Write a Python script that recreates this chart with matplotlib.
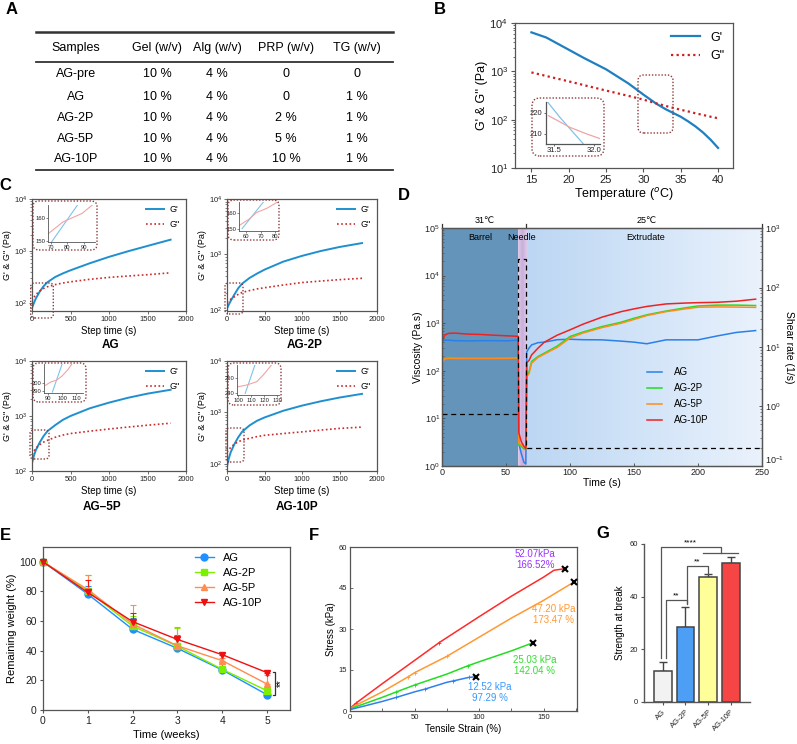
import numpy as np
import matplotlib
matplotlib.use("Agg")
import matplotlib.pyplot as plt
from matplotlib.patches import FancyBboxPatch
from matplotlib.colors import LinearSegmentedColormap
from matplotlib.transforms import blended_transform_factory
from matplotlib.lines import Line2D

plt.rcParams['font.family'] = ['Liberation Sans', 'DejaVu Sans']
plt.rcParams['axes.edgecolor'] = '#555555'
plt.rcParams['xtick.color'] = '#555555'
plt.rcParams['ytick.color'] = '#555555'
plt.rcParams['xtick.labelcolor'] = '#222222'
plt.rcParams['ytick.labelcolor'] = '#222222'
plt.rcParams['axes.linewidth'] = 0.9

# ---------------- data ----------------
# A : table
table_headers = ["Samples", "Gel (w/v)", "Alg (w/v)", "PRP (w/v)", "TG (w/v)"]
table_samples = ["AG-pre", "AG", "AG-2P", "AG-5P", "AG-10P"]
table_gel = ["10 %", "10 %", "10 %", "10 %", "10 %"]
table_alg = ["4 %", "4 %", "4 %", "4 %", "4 %"]
table_prp = ["0", "0", "2 %", "5 %", "10 %"]
table_tg = ["0", "1 %", "1 %", "1 %", "1 %"]

# B : temperature sweep
B_temp = [15, 17, 20, 22, 25, 28, 30, 31.7, 33, 35, 36, 37, 38, 39, 40]
B_Gp = [6400, 5000, 2800, 1900, 1100, 560, 330, 215, 164, 115, 92, 72, 54, 38.5, 26]
B_Gpp = [950, 800, 620, 520, 400, 310, 260, 218, 192, 160, 148, 135, 125, 115, 107]
Bi_x_Gp = [31.42, 31.57, 31.86]
Bi_Gp = [225.3, 218, 205.2]
Bi_x_Gpp = [31.43, 31.7, 31.91, 32.07]
Bi_Gpp = [218.7, 213, 209.8, 207.6]

# C : time sweeps
C_time = [0, 25, 50, 100, 150, 200, 300, 400, 500, 750, 1000, 1250, 1500, 1800]
C_AG_Gp = [80, 100, 122, 165, 210, 250, 315, 370, 425, 580, 770, 990, 1250, 1650]
C_AG_Gpp = [110, 128, 145, 170, 190, 205, 225, 242, 255, 285, 310, 330, 350, 380]
C_2P_Gp = [105, 125, 145, 190, 245, 295, 375, 450, 530, 740, 940, 1150, 1360, 1600]
C_2P_Gpp = [135, 145, 155, 172, 190, 205, 222, 238, 250, 280, 310, 330, 350, 370]
C_5P_Gp = [140, 190, 240, 330, 430, 530, 680, 850, 1000, 1380, 1750, 2150, 2550, 3000]
C_5P_Gpp = [200, 230, 260, 300, 335, 360, 410, 450, 480, 530, 580, 630, 680, 740]
C_10P_Gp = [90, 130, 170, 245, 330, 420, 560, 690, 800, 1080, 1360, 1650, 1950, 2300]
C_10P_Gpp = [170, 190, 210, 245, 270, 290, 315, 340, 360, 390, 420, 455, 490, 520]
# C insets (crossover zoom)
Ci_AG_xp = [70.5, 86]; Ci_AG_p = [149.6, 165.5]
Ci_AG_xpp = [68.6, 77.3, 88.7, 94.8]; Ci_AG_pp = [153.2, 158.2, 161.9, 165.5]
Ci_2P_xp = [57, 72]; Ci_2P_p = [150, 166.7]
Ci_2P_xpp = [55, 62, 67, 75, 82]; Ci_2P_pp = [152, 156, 160, 163, 166.7]
Ci_5P_xp = [93, 100]; Ci_5P_p = [289, 322]
Ci_5P_xpp = [88, 92, 96, 100, 104, 107]; Ci_5P_pp = [297, 301, 303, 308, 315, 322]
Ci_10P_xp = [105.5, 113]; Ci_10P_p = [240, 257.9]
Ci_10P_xpp = [100, 106.8, 114.4, 119.4, 125.7]; Ci_10P_pp = [244.2, 245.3, 247.4, 251.6, 257.9]

# D : viscosity during extrusion
D_t = [0, 2, 5, 10, 20, 30, 40, 50, 59.5, 60, 62, 64, 65.5, 66.2, 68, 70, 75, 80, 90,
       100, 110, 125, 140, 150, 160, 175, 190, 200, 215, 230, 245]
D_AG = [420, 440, 440, 430, 425, 430, 430, 425, 440, 3, 1.8, 1.2, 1.1, 250, 300, 350, 390,
        400, 450, 460, 450, 447, 420, 400, 370, 447, 447, 447, 540, 640, 700]
D_2P = [160, 185, 190, 188, 185, 185, 185, 185, 190, 2.8, 2.6, 2.3, 2.2, 80, 95, 157, 200,
        235, 330, 525, 650, 850, 1050, 1270, 1500, 1800, 2100, 2300, 2400, 2400, 2350]
D_5P = [150, 178, 183, 182, 182, 182, 182, 183, 185, 3.0, 2.8, 2.5, 2.4, 75, 88, 145, 190,
        225, 310, 490, 620, 810, 1000, 1200, 1450, 1750, 2000, 2170, 2200, 2180, 2150]
D_10P = [400, 560, 610, 620, 590, 580, 560, 545, 530, 5, 3.2, 2.6, 2.3, 150, 165, 215, 300,
         400, 560, 725, 950, 1340, 1750, 2000, 2250, 2540, 2650, 2700, 2750, 2900, 3200]
D_shear_t = [0, 59.5, 59.5, 65.5, 65.5, 250]
D_shear = [0.75, 0.75, 297, 297, 0.2, 0.2]
D_shear_ticks = [0.1, 1, 10, 100, 1000]

# E : degradation
E_weeks = [0, 1, 2, 3, 4, 5]
E_AG = [100, 78.2, 54.4, 41.6, 27, 10.3]
E_2P = [100, 80.4, 56.6, 43.1, 27.4, 13]
E_5P = [100, 81.3, 58, 43.3, 33.3, 17.5]
E_10P = [100, 79.3, 59.6, 47.6, 37.3, 25.2]
E_AG_err = [0, 5.4, 7.4, 9, 5.6, 1]
E_2P_err = [0, 11, 6.5, 12, 2.5, 1.6]
E_5P_err = [0, 10, 13, 12.6, 1.5, 6]
E_10P_err = [0, 8.5, 6, 2, 1.5, 1.3]

# F : stress-strain
F_AG_x = [0, 25, 36, 50, 58, 75, 80, 92, 97.29]
F_AG_y = [0.5, 3.5, 5, 7, 8, 10.5, 11, 12.3, 12.52]
F_2P_x = [0, 25, 36, 50, 75, 91, 100, 125, 142.04]
F_2P_y = [0.8, 5, 7, 9.5, 13.5, 16.5, 18, 22, 25.03]
F_5P_x = [0, 25, 45, 50, 75, 100, 125, 150, 173.47]
F_5P_y = [1, 7, 12.5, 14, 20, 27, 34, 40.5, 47.2]
F_10P_x = [0, 5, 25, 50, 69, 100, 125, 150, 158, 166.52]
F_10P_y = [1, 3, 10, 18.5, 25, 34.5, 42, 49, 51.5, 52.07]

# G : strength at break
G_groups = ["AG", "AG-2P", "AG-5P", "AG-10P"]
G_mean = [11.7, 28.6, 47.3, 52.7]
G_err = [3.5, 7.6, 1.3, 2.2]

# ---------------- figure ----------------
W, H = 797, 744
fig = plt.figure(figsize=(W / 100, H / 100), dpi=100)


def add_ax(x0, y0, x1, y1, **kw):
    return fig.add_axes([x0 / W, 1 - y1 / H, (x1 - x0) / W, (y1 - y0) / H], **kw)


def rrect(x0, y0, x1, y1, r=6, color='#8b3a3a', lw=1.0):
    p = FancyBboxPatch((x0 / W, 1 - y1 / H), (x1 - x0) / W, (y1 - y0) / H,
                       boxstyle=f"round,pad=0,rounding_size={r / W}",
                       transform=fig.transFigure, fill=False, edgecolor=color,
                       linewidth=lw, linestyle=(0, (1, 1.3)), zorder=20)
    fig.add_artist(p)


def ftext(x, y, s, **kw):
    fig.text(x / W, 1 - y / H, s, **kw)


def hline(x0, x1, y, lw=1.2, color='#333333'):
    fig.add_artist(Line2D([x0 / W, x1 / W], [1 - y / H, 1 - y / H],
                          transform=fig.transFigure, color=color, lw=lw))


# panel letters
for lab, (x, y) in {'A': (12, 9), 'B': (440, 9), 'C': (5, 186), 'D': (404, 195),
                    'E': (5, 535), 'F': (314, 535), 'G': (603, 533)}.items():
    ftext(x, y, lab, fontsize=12, fontweight='bold', ha='center', va='center')

# ---------------- A ----------------
cols_x = [76, 157, 217, 286, 357]
row_y = [74, 96.5, 118, 138.5, 159.5]
hline(36, 393, 31.5, lw=1.8)
hline(36, 393, 61.5, lw=1.3)
hline(36, 393, 169.5, lw=1.3)
for cx, h in zip(cols_x, table_headers):
    ftext(cx, 47.5, h, fontsize=9, ha='center', va='center')
for i, ry in enumerate(row_y):
    vals = [table_samples[i], table_gel[i], table_alg[i], table_prp[i], table_tg[i]]
    for cx, v in zip(cols_x, vals):
        ftext(cx, ry, v, fontsize=9, ha='center', va='center')

# ---------------- B ----------------
axB = add_ax(515, 23, 733, 168)
axB.plot(B_temp, B_Gp, color='#1f7fc1', lw=1.6, label="G'")
axB.plot(B_temp, B_Gpp, color='#cc2020', lw=1.6, ls=(0, (1, 1.5)), label='G"')
axB.set_yscale('log')
axB.set_xlim(12.8, 42)
axB.set_ylim(10, 1e4)
axB.set_xticks([15, 20, 25, 30, 35, 40])
axB.tick_params(labelsize=8, length=3, width=0.8, pad=2)
axB.tick_params(which='minor', length=1.5, width=0.6)
axB.set_xlabel('Temperature ($^{o}$C)', fontsize=9, labelpad=1)
axB.set_ylabel("G' & G'' (Pa)", fontsize=9, labelpad=1)
axB.legend(loc='upper right', frameon=False, fontsize=9, handlelength=2.3,
           borderaxespad=0.3, labelspacing=0.5)
rrect(638, 75, 673, 133, r=6)
rrect(532, 98, 604, 156, r=8)
axBi = add_ax(546, 102, 600, 144)
axBi.plot(Bi_x_Gp, Bi_Gp, color='#7ec3ea', lw=0.9)
axBi.plot(Bi_x_Gpp, Bi_Gpp, color='#efa5a5', lw=0.9)
axBi.set_xlim(31.4, 32.07)
axBi.set_ylim(205, 225.3)
axBi.set_xticks([31.5, 32.0])
axBi.set_xticklabels(['31.5', '32.0'])
axBi.set_yticks([210, 220])
for s in ['top', 'right']:
    axBi.spines[s].set_visible(False)
axBi.tick_params(labelsize=5.5, length=1.5, width=0.6, pad=1)
axBi.patch.set_alpha(0)

# ---------------- C ----------------
C_boxes = [(32, 199, 186, 311), (227, 199, 377, 311), (32, 361, 186, 471), (227, 361, 377, 471)]
C_ylims = [(70, 1e4), (95, 1e4), (100, 1e4), (73, 1e4)]
C_series = [(C_AG_Gp, C_AG_Gpp), (C_2P_Gp, C_2P_Gpp), (C_5P_Gp, C_5P_Gpp), (C_10P_Gp, C_10P_Gpp)]
C_titles = [("AG", 111, 345), ("AG-2P", 305, 345), ("AG\u20135P", 102, 507), ("AG-10P", 297, 507)]
C_zoomrect = [(30.7, 283, 53.3, 318), (225, 283, 243, 314), (30, 430, 49, 459), (226, 428, 244, 462)]
C_insetrect = [(33, 201, 97, 250), (228, 200, 279, 240), (33, 363, 86, 402), (228, 363, 281, 405)]
C_insetax = [(48, 205, 95, 242), (239, 202, 278, 231), (44, 364, 83, 393), (237, 365, 279, 395)]
C_inset_data = [(Ci_AG_xp, Ci_AG_p, Ci_AG_xpp, Ci_AG_pp), (Ci_2P_xp, Ci_2P_p, Ci_2P_xpp, Ci_2P_pp),
                (Ci_5P_xp, Ci_5P_p, Ci_5P_xpp, Ci_5P_pp), (Ci_10P_xp, Ci_10P_p, Ci_10P_xpp, Ci_10P_pp)]
C_inset_xlim = [(68.4, 96.4), (54.8, 82.3), (87, 115), (99.2, 131.5)]
C_inset_ylim = [(149.6, 165.5), (148.5, 166.7), (288, 322), (239, 257.9)]
C_inset_xt = [[70, 80, 90], [60, 70, 80], [90, 100, 110], [100, 110, 120, 130]]
C_inset_yt = [[150, 160], [150, 160], [290, 300], [240, 250]]

for i in range(4):
    ax = add_ax(*C_boxes[i])
    gp, gpp = C_series[i]
    ax.plot(C_time, gp, color='#1f8fd0', lw=1.4, label="G'")
    ax.plot(C_time, gpp, color='#cc2a2a', lw=1.2, ls=(0, (1, 1.5)), label='G"')
    ax.set_yscale('log')
    ax.set_xlim(0, 2000)
    ax.set_ylim(*C_ylims[i])
    ax.set_xticks([0, 500, 1000, 1500, 2000])
    ax.tick_params(labelsize=5.5, length=2, width=0.6, pad=1.5)
    ax.tick_params(which='minor', length=1.2, width=0.5)
    ax.set_xlabel('Step time (s)', fontsize=7, labelpad=2)
    ax.set_ylabel("G' & G'' (Pa)", fontsize=6.5, labelpad=1)
    ax.legend(loc='upper right', frameon=False, fontsize=6.5, handlelength=2.0,
              borderaxespad=0.3, labelspacing=0.6, handletextpad=0.6)
    t, tx, ty = C_titles[i]
    ftext(tx, ty, t, fontsize=8.5, fontweight='bold', ha='center', va='center')
    rrect(*C_zoomrect[i], r=4)
    rrect(*C_insetrect[i], r=6)
    axi = add_ax(*C_insetax[i])
    xp, p, xpp, pp = C_inset_data[i]
    axi.plot(xp, p, color='#7ec3ea', lw=0.8)
    axi.plot(xpp, pp, color='#efa5a5', lw=0.8)
    axi.set_xlim(*C_inset_xlim[i])
    axi.set_ylim(*C_inset_ylim[i])
    axi.set_xticks(C_inset_xt[i])
    axi.set_yticks(C_inset_yt[i])
    for s in ['top', 'right']:
        axi.spines[s].set_visible(False)
    axi.tick_params(labelsize=4.2, length=1.2, width=0.5, pad=0.8)
    for s in axi.spines.values():
        s.set_linewidth(0.6)
    axi.patch.set_alpha(0)

# ---------------- D ----------------
bgD = add_ax(442, 228, 762, 466)
bgD.axvspan(0, 59.5, color='#6594ba', lw=0)
ext_cmap = LinearSegmentedColormap.from_list('ext', ['#bcd6f3', '#d2e4f8', '#eaf2fc'])
nd_cmap = LinearSegmentedColormap.from_list('nd', ['#dccbe8', '#c9aedb', '#dccbe8'])
bgD.imshow(np.linspace(0, 1, 256)[None, :], extent=[66, 250, 0, 1], aspect='auto',
           cmap=ext_cmap, zorder=0)
bgD.imshow(np.linspace(0, 1, 64)[None, :], extent=[59.5, 66, 0, 1], aspect='auto',
           cmap=nd_cmap, zorder=0)
bgD.set_xlim(0, 250)
bgD.set_ylim(0, 1)
bgD.axis('off')

axD = add_ax(442, 228, 762, 466)
axD.patch.set_visible(False)
axD.plot(D_t, D_AG, color='#2a80e8', lw=1.1, label='AG')
axD.plot(D_t, D_2P, color='#22dd22', lw=1.1, label='AG-2P')
axD.plot(D_t, D_5P, color='#ff8c1a', lw=1.1, label='AG-5P')
axD.plot(D_t, D_10P, color='#ee2222', lw=1.1, label='AG-10P')
axD.set_yscale('log')
axD.set_xlim(0, 250)
axD.set_ylim(1, 1e5)
axD.set_xticks([0, 50, 100, 150, 200, 250])
axD.tick_params(labelsize=6.5, length=2.5, width=0.7, pad=1.5, direction='in')
axD.tick_params(which='minor', length=1.5, width=0.5, direction='in')
axD.set_xlabel('Time (s)', fontsize=7.5, labelpad=1)
axD.set_ylabel('Viscosity (Pa.s)', fontsize=7.5, labelpad=1)
axD.legend(loc='upper left', bbox_to_anchor=(0.64, 0.415), frameon=False, fontsize=7,
           handlelength=1.6, handletextpad=1.2, labelspacing=0.62, borderpad=0,
           borderaxespad=0)
axS = axD.twinx()
axS.plot(D_shear_t, D_shear, color='black', lw=0.9, ls=(0, (4, 3)))
axS.set_yscale('log')
axS.set_ylim(0.1, 1000)
axS.set_yticks(D_shear_ticks)
axS.tick_params(labelsize=6.5, length=2.5, width=0.7, pad=2, direction='in')
axS.tick_params(which='minor', length=1.5, width=0.5, direction='in')
axS.yaxis.get_major_ticks()[0].label2.set_verticalalignment('bottom')
axS.set_ylabel('Shear rate (1/s)', fontsize=7.5, rotation=270, labelpad=7)
trD = blended_transform_factory(axD.transData, axD.transAxes)
for xv in [0, 66, 250]:
    axD.plot([xv, xv], [1, 1.018], transform=trD, color='#333333', lw=0.9, clip_on=False)
axD.text(33.6, 1.012, '31\u2103', transform=trD, fontsize=6.5, ha='center', va='bottom')
axD.text(160, 1.012, '25\u2103', transform=trD, fontsize=6.5, ha='center', va='bottom')
axD.text(30, 0.96, 'Barrel', transform=trD, fontsize=6.5, ha='center', va='center')
axD.text(62.5, 0.96, 'Needle', transform=trD, fontsize=6.5, ha='center', va='center')
axD.text(159, 0.96, 'Extrudate', transform=trD, fontsize=6.5, ha='center', va='center')

# ---------------- E ----------------
axE = add_ax(43, 547, 290, 710)
E_sets = [(E_AG, E_AG_err, '#1e90ff', 'o', 'AG'), (E_2P, E_2P_err, '#7cf000', 's', 'AG-2P'),
          (E_5P, E_5P_err, '#ff8c50', '^', 'AG-5P'), (E_10P, E_10P_err, '#ee1111', 'v', 'AG-10P')]
E_handles = []
for vals, err, c, m, lab in E_sets:
    axE.errorbar(E_weeks, vals, yerr=[np.zeros(len(err)), err], color=c, marker=m, ms=5,
                 lw=1.0, capsize=2, elinewidth=0.8, capthick=0.8, clip_on=False)
    E_handles.append(Line2D([], [], color=c, marker=m, ms=5, lw=1.0, label=lab))
axE.set_xlim(0, 5.51)
axE.set_ylim(0, 110)
axE.set_xticks([0, 1, 2, 3, 4, 5])
axE.set_yticks([0, 20, 40, 60, 80, 100])
axE.tick_params(labelsize=7.5, length=2.5, width=0.8, pad=2)
axE.set_xlabel('Time (weeks)', fontsize=8, labelpad=3)
axE.set_ylabel('Remaining weight (%)', fontsize=8, labelpad=2)
axE.legend(handles=E_handles, loc='upper left', bbox_to_anchor=(0.615, 0.965), frameon=False,
           fontsize=8, handlelength=1.7, handletextpad=0.8, labelspacing=0.45, borderpad=0,
           borderaxespad=0)
axE.plot([5.13, 5.18, 5.18, 5.13], [25.9, 25.9, 10.1, 10.1], color='#333333', lw=0.9,
         clip_on=False)
axE.text(5.3, 18, '**', rotation=90, ha='center', va='center', fontsize=7)

# ---------------- F ----------------
axF = add_ax(350, 547, 577, 711)
F_sets = [(F_10P_x, F_10P_y, '#ff2a2a', [1, 4]), (F_5P_x, F_5P_y, '#ff9933', [2, 3, 4]),
          (F_2P_x, F_2P_y, '#22dd22', [2, 3, 5]), (F_AG_x, F_AG_y, '#2f80ee', [2, 4, 6, 7])]
for xs, ys, c, mk in F_sets:
    axF.plot(xs, ys, color=c, lw=1.1, marker='+', ms=3.5, mew=0.6, markevery=mk)
    axF.plot([xs[-1]], [ys[-1]], marker='x', color='black', ms=5, mew=1.5, ls='none',
             clip_on=False, zorder=5)
axF.set_xlim(0, 175.8)
axF.set_ylim(0, 60)
axF.set_xticks([0, 50, 100, 150])
axF.set_xticks([25, 75, 125, 175], minor=True)
axF.set_yticks([0, 15, 30, 45, 60])
axF.tick_params(labelsize=5.5, length=2.5, width=0.6, pad=2, direction='in')
axF.tick_params(which='minor', length=2.5, width=0.6, direction='in')
axF.set_xlabel('Tensile Strain (%)', fontsize=7, labelpad=2)
axF.set_ylabel('Stress (kPa)', fontsize=7, labelpad=2)
F_ann = [("52.07kPa\n166.52%", 143.5, 55.4, '#9933ff'),
         ("47.20 kPa\n173.47 %", 157.5, 35.2, '#ff9933'),
         ("25.03 kPa\n142.04 %", 143, 16.7, '#33dd33'),
         ("12.52 kPa\n97.29 %", 108, 6.9, '#3399ff')]
for s, x, y, c in F_ann:
    axF.text(x, y, s, color=c, fontsize=7, ha='center', va='center', linespacing=1.15)

# ---------------- G ----------------
axG = add_ax(644, 544, 750, 702)
G_colors = ['#f2f2f2', '#4d9ef5', '#ffff99', '#f54545']
xg = np.arange(len(G_groups))
axG.bar(xg, G_mean, width=0.78, color=G_colors, edgecolor='#444444', lw=1.1, zorder=2)
axG.errorbar(xg, G_mean, yerr=[np.zeros(4), G_err], fmt='none', ecolor='#444444',
             elinewidth=1.0, capsize=3, capthick=1.0, zorder=1)
axG.set_xlim(-0.82, 3.83)
axG.set_ylim(0, 60)
axG.set_yticks([0, 20, 40, 60])
axG.set_xticks(xg)
axG.set_xticklabels(G_groups, rotation=45, ha='right', rotation_mode='anchor')
for s in ['top', 'right']:
    axG.spines[s].set_visible(False)
for s in ['left', 'bottom']:
    axG.spines[s].set_linewidth(1.0)
axG.tick_params(labelsize=5.5, length=2.5, width=0.8, pad=2)
axG.set_ylabel('Strength at break', fontsize=7, labelpad=3)
bc = '#555555'
axG.plot([0.14, 0.14, 1.05, 1.05], [16.7, 38.7, 38.7, 37.2], color=bc, lw=0.9, clip_on=False)
axG.text(0.6, 38.9, '**', ha='center', va='bottom', fontsize=6)
axG.plot([1.05, 1.05, 2.0, 2.0], [37.5, 51.6, 51.6, 48.5], color=bc, lw=0.9, clip_on=False)
axG.text(1.52, 51.8, '**', ha='center', va='bottom', fontsize=6)
axG.plot([-0.07, -0.07, 2.54, 2.54], [16.7, 59, 59, 56.7], color=bc, lw=0.9, clip_on=False)
axG.plot([1.77, 3.32], [56.7, 56.7], color=bc, lw=0.9, clip_on=False)
axG.text(1.2, 59.2, '****', ha='center', va='bottom', fontsize=6)

fig.savefig('out.png', dpi=100)
